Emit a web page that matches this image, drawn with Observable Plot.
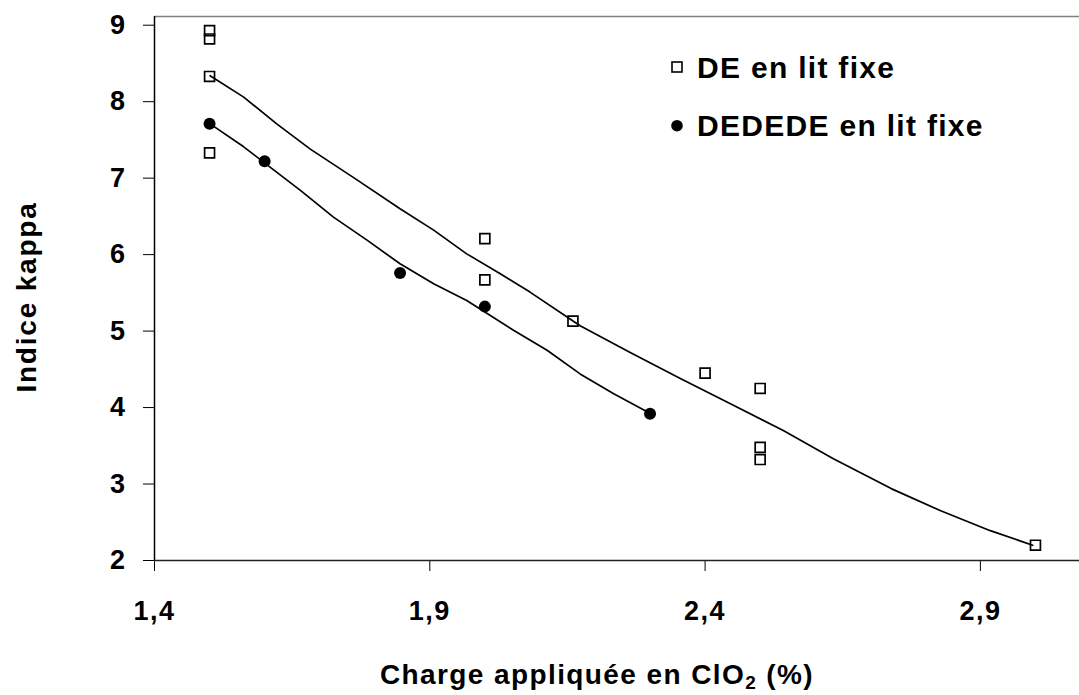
<!DOCTYPE html>
<html><head><meta charset="utf-8">
<script src="https://cdn.jsdelivr.net/npm/d3@7"></script>
<script src="https://cdn.jsdelivr.net/npm/@observablehq/plot@0.6"></script>
<style>
body{margin:0;background:#fff;}
#chart{position:relative;width:1079px;height:695px;}
#chart svg{font-family:"Liberation Sans",Arial,sans-serif;}
</style></head><body><div id="chart"></div>
<script>
// Measured points
const deX = [1.5, 1.5, 1.5, 1.5, 2.0, 2.0, 2.16, 2.4, 2.5, 2.5, 2.5, 3.0];
const deY = [8.93, 8.82, 8.33, 7.33, 6.21, 5.67, 5.13, 4.45, 4.25, 3.48, 3.32, 2.20];
const dddX = [1.5, 1.6, 1.846, 2.0, 2.3];
const dddY = [7.71, 7.22, 5.76, 5.32, 3.92];
// Trend curves
const deFitX = [1.501,1.562,1.622,1.683,1.761,1.846,1.907,1.967,2.028,2.082,2.173,2.264,2.355,2.446,2.542,2.633,2.738,2.828,2.918,2.995];
const deFitY = [8.34,8.06,7.71,7.38,7.01,6.60,6.32,6.01,5.75,5.51,5.07,4.72,4.38,4.05,3.70,3.33,2.94,2.65,2.39,2.20];
const dddFitX = [1.501,1.562,1.598,1.665,1.725,1.786,1.846,1.907,1.967,2.0,2.052,2.113,2.173,2.234,2.299];
const dddFitY = [7.71,7.41,7.21,6.84,6.49,6.19,5.88,5.62,5.40,5.25,5.01,4.75,4.44,4.18,3.93];
// Axes
const xTicks = [1.4, 1.9, 2.4, 2.9];
const yTicks = [2, 3, 4, 5, 6, 7, 8, 9];
const xDomain = [1.4, 3.08];
const yDomain = [2, 9.114];
const seriesNames = ["DE en lit fixe", "DEDEDE en lit fixe"];
const xTitleMain = "Charge appliquée en ClO";
const xTitleSub = "2";
const xTitleEnd = " (%)";
const yTitle = "Indice kappa";

const dePts = deX.map((x, i) => ({x, y: deY[i]}));
const dddPts = dddX.map((x, i) => ({x, y: dddY[i]}));
const deFit = deFitX.map((x, i) => ({x, y: deFitY[i]}));
const dddFit = dddFitX.map((x, i) => ({x, y: dddFitY[i]}));

const font = '"Liberation Sans", Arial, sans-serif';
const plot = Plot.plot({
  width: 1079, height: 695,
  marginLeft: 154, marginRight: 0, marginTop: 16, marginBottom: 135,
  style: {fontFamily: font, fontSize: "27px", fontWeight: "bold", color: "#000", background: "#fff"},
  x: {domain: xDomain, label: null},
  y: {domain: yDomain, label: null},
  marks: [
    Plot.ruleY([yDomain[1]], {stroke: "#808080", strokeWidth: 1.6}),
    Plot.line(deFit, {x: "x", y: "y", stroke: "#000", strokeWidth: 1.7}),
    Plot.line(dddFit, {x: "x", y: "y", stroke: "#000", strokeWidth: 1.7}),
    Plot.dot(dePts, {x: "x", y: "y", symbol: "square", r: 5.6, fill: "none", stroke: "#000", strokeWidth: 1.7}),
    Plot.dot(dddPts, {x: "x", y: "y", r: 6, fill: "#000", stroke: "none"}),
    Plot.axisX({ticks: xTicks, tickSize: 11, tickPadding: 29, fontSize: 27, fontWeight: "bold",
      tickFormat: d => d.toFixed(1).replace(".", ","), label: null}),
    Plot.axisY({ticks: yTicks, tickSize: 11, tickPadding: 17, fontSize: 27, fontWeight: "bold",
      tickFormat: d => String(d), label: null}),
    Plot.ruleX([xDomain[0]], {stroke: "#000", strokeWidth: 1.5}),
    Plot.ruleY([yDomain[0]], {stroke: "#222", strokeWidth: 1.5})
  ]
});
document.getElementById("chart").appendChild(plot);

const svg = d3.select(plot);
// enforce tick label font
svg.selectAll('g[aria-label="x-axis tick label"], g[aria-label="y-axis tick label"]')
  .attr("font-size", 27).style("font-size", "27px").attr("font-weight", "bold")
  .style("font-weight", "bold").attr("letter-spacing", "1.5px");
// X title
const xt = svg.append("text")
  .attr("x", 597).attr("y", 684).attr("text-anchor", "middle")
  .attr("font-size", 28).attr("font-weight", "bold").attr("letter-spacing", "1.4px")
  .attr("fill", "#000").attr("font-family", font);
xt.append("tspan").text(xTitleMain);
xt.append("tspan").attr("font-size", 19).attr("dy", 5).text(xTitleSub);
xt.append("tspan").attr("dy", -5).text(xTitleEnd);
// Y title
svg.append("text")
  .attr("transform", "translate(36,297) rotate(-90)").attr("text-anchor", "middle")
  .attr("font-size", 28).attr("font-weight", "bold").attr("letter-spacing", "1.8px")
  .attr("fill", "#000").attr("font-family", font).text(yTitle);
// Legend
const lg = svg.append("g").attr("font-family", font).attr("font-weight", "bold")
  .attr("font-size", 30).attr("text-anchor", "start");
lg.append("rect").attr("x", 672).attr("y", 62).attr("width", 10).attr("height", 10)
  .attr("fill", "none").attr("stroke", "#000").attr("stroke-width", 1.6);
lg.append("text").attr("x", 697).attr("y", 77.5).attr("text-anchor", "start")
  .attr("letter-spacing", "1.3px").text(seriesNames[0]);
lg.append("circle").attr("cx", 677).attr("cy", 125.7).attr("r", 5.8).attr("fill", "#000");
lg.append("text").attr("x", 697).attr("y", 136).attr("text-anchor", "start")
  .attr("letter-spacing", "1.3px").text(seriesNames[1]);
</script></body></html>
